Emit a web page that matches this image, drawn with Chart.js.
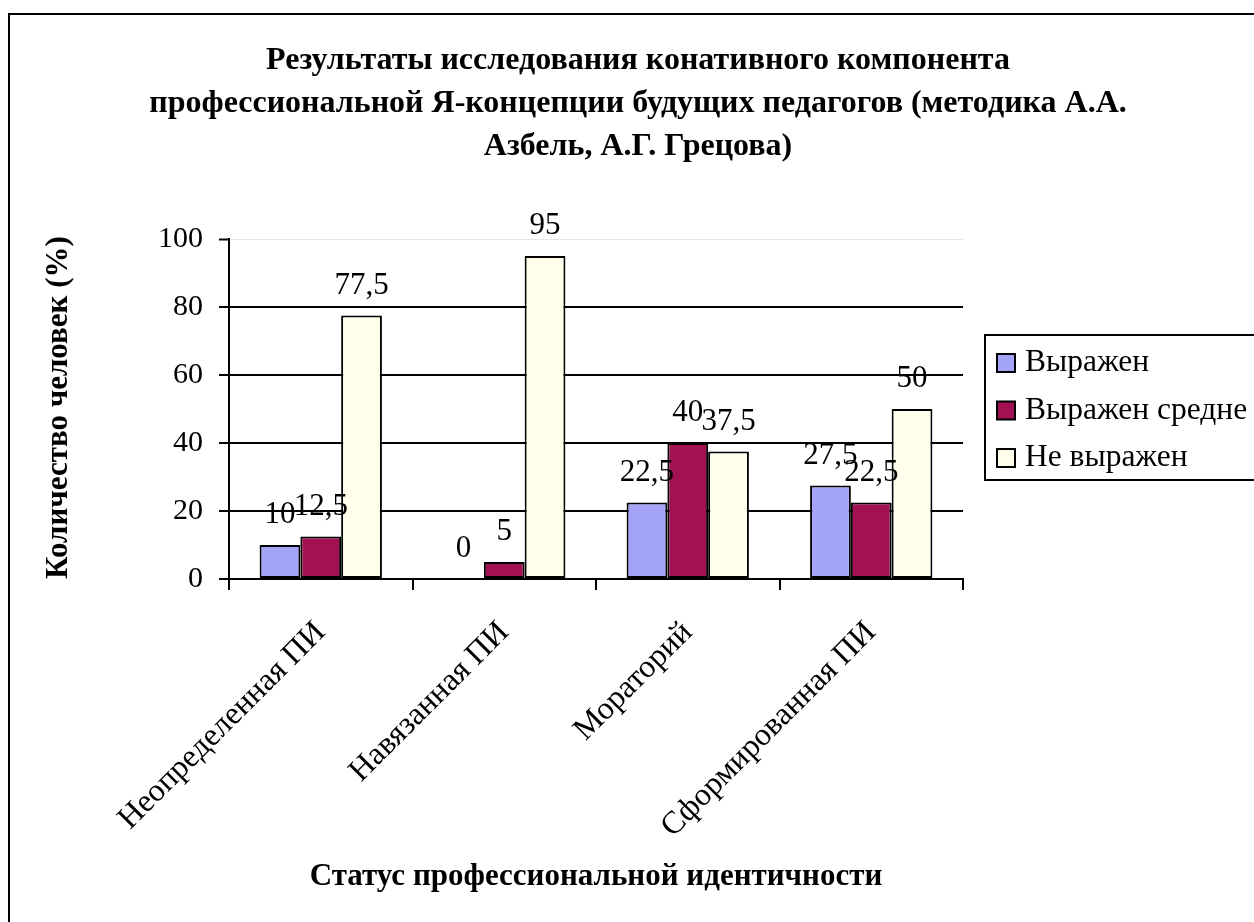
<!DOCTYPE html>
<html lang="ru">
<head>
<meta charset="utf-8">
<title>Конативный компонент профессиональной Я-концепции</title>
<script src="https://cdn.jsdelivr.net/npm/chart.js@4.4.1/dist/chart.umd.min.js"></script>
<style>
  html, body { margin: 0; padding: 0; background: #fff; overflow: hidden; }
  #frame { position: absolute; left: 8px; top: 13px; right: 0; bottom: 0; border-left: 2px solid #000; border-top: 2px solid #000; }
  #wrap { position: absolute; left: 0; top: 0; width: 1254px; height: 922px; }
</style>
</head>
<body>
<div id="frame"></div>
<div id="wrap"><canvas id="chart" width="1254" height="922"></canvas></div>
<script>
// Данные
const categories = ["Неопределенная ПИ", "Навязанная ПИ", "Мораторий", "Сформированная ПИ"];
const seriesNames = ["Выражен", "Выражен средне", "Не выражен"];
const expressed = [10, 0, 22.5, 27.5];
const expressedMedium = [12.5, 5, 40, 22.5];
const notExpressed = [77.5, 95, 37.5, 50];
const yTicks = [0, 20, 40, 60, 80, 100];

const titleLines = [
  "Результаты исследования конативного компонента",
  "профессиональной Я-концепции будущих педагогов (методика А.А.",
  "Азбель, А.Г. Грецова)",
];
const xTitle = "Статус профессиональной идентичности";
const yTitle = "Количество человек (%)";

const colors = ["#A3A3F8", "#A31155", "#FFFFEB"];
const serif = '"Liberation Serif", "Times New Roman", serif';

// 12,5 вместо 12.5
function formatValue(v) {
  return String(v).replace(".", ",");
}

// Подписи значений над столбцами
const valueLabels = {
  id: "valueLabels",
  afterDatasetsDraw(chart) {
    const ctx = chart.ctx;
    ctx.save();
    ctx.font = "31px " + serif;
    ctx.fillStyle = "#000";
    ctx.textAlign = "center";
    ctx.textBaseline = "alphabetic";
    chart.data.datasets.forEach((ds, i) => {
      chart.getDatasetMeta(i).data.forEach((bar, j) => {
        ctx.fillText(formatValue(ds.data[j]), bar.x, bar.y - 22);
      });
    });
    ctx.restore();
  },
};

// Легенда в рамке справа от области построения
function drawLegend(chart, box) {
  const ctx = chart.ctx;
  const area = chart.chartArea;
  const x0 = box.left + 22;
  const y0 = area.top + 96;
  const rowStep = 47.5;
  ctx.save();
  ctx.lineWidth = 2;
  ctx.strokeStyle = "#000";
  ctx.strokeRect(x0, y0, 400, 145);
  ctx.font = "31.5px " + serif;
  ctx.textAlign = "left";
  ctx.textBaseline = "middle";
  chart.data.datasets.forEach((ds, i) => {
    const cy = y0 + 28 + i * rowStep;
    ctx.fillStyle = ds.backgroundColor;
    ctx.fillRect(x0 + 12, cy - 9, 18, 18);
    ctx.strokeRect(x0 + 12, cy - 9, 18, 18);
    ctx.fillStyle = "#000";
    ctx.fillText(ds.label, x0 + 40, cy);
  });
  ctx.restore();
}

const sideLegend = {
  id: "sideLegend",
  beforeInit(chart) {
    const box = {
      position: "right",
      weight: 0,
      fullSize: false,
      options: {},
      width: 0, height: 0, left: 0, top: 0, right: 0, bottom: 0,
      isHorizontal() { return false; },
      update(maxWidth, maxHeight) {
        this.width = 277;
        this.height = maxHeight;
      },
      draw() { drawLegend(chart, this); },
    };
    Chart.layouts.addBox(chart, box);
  },
};

const datasets = [expressed, expressedMedium, notExpressed].map((values, i) => ({
  label: seriesNames[i],
  data: values,
  backgroundColor: colors[i],
  borderColor: "#000",
  borderWidth: 2,
  borderSkipped: false,
  categoryPercentage: 3 / 4.5,
  barPercentage: 1,
}));

new Chart(document.getElementById("chart"), {
  type: "bar",
  data: { labels: categories, datasets: datasets },
  options: {
    responsive: false,
    animation: false,
    layout: { padding: { left: 36, right: 14, top: 10, bottom: 22 } },
    plugins: {
      legend: { display: false },
      tooltip: { enabled: false },
      title: {
        display: true,
        text: titleLines,
        color: "#000",
        font: { family: serif, size: 32, weight: "bold", lineHeight: "43px" },
        padding: { top: 29, bottom: 71 },
      },
    },
    scales: {
      x: {
        grid: { offset: true, drawOnChartArea: false, color: "#000", lineWidth: 2, tickLength: 11 },
        border: { color: "#000", width: 2 },
        ticks: {
          color: "#000",
          font: { family: serif, size: 32 },
          minRotation: 45,
          maxRotation: 45,
          autoSkip: false,
          padding: 24,
        },
        title: {
          display: true,
          text: xTitle,
          color: "#000",
          font: { family: serif, size: 31, weight: "bold" },
          padding: { top: 4, bottom: 4 },
        },
        afterFit(scale) { scale.height = 321; },
      },
      y: {
        min: 0,
        max: 100,
        afterBuildTicks(scale) {
          scale.ticks = yTicks.map((v) => ({ value: v }));
        },
        ticks: { color: "#000", font: { family: serif, size: 30 }, padding: 16 },
        grid: {
          color: (c) => (c.tick && c.tick.value === 100 ? "#e6e6e6" : "#000"),
          lineWidth: (c) => (c.tick && c.tick.value === 100 ? 1 : 2),
          tickColor: "#000",
          tickWidth: 2,
          tickLength: 10,
        },
        border: { color: "#000", width: 2 },
        title: {
          display: true,
          align: "start",
          text: yTitle,
          color: "#000",
          font: { family: serif, size: 31, weight: "bold" },
          padding: { top: 4, bottom: 4 },
        },
        afterFit(scale) { scale.width = 193; },
      },
    },
  },
  plugins: [valueLabels, sideLegend],
});
</script>
</body>
</html>
